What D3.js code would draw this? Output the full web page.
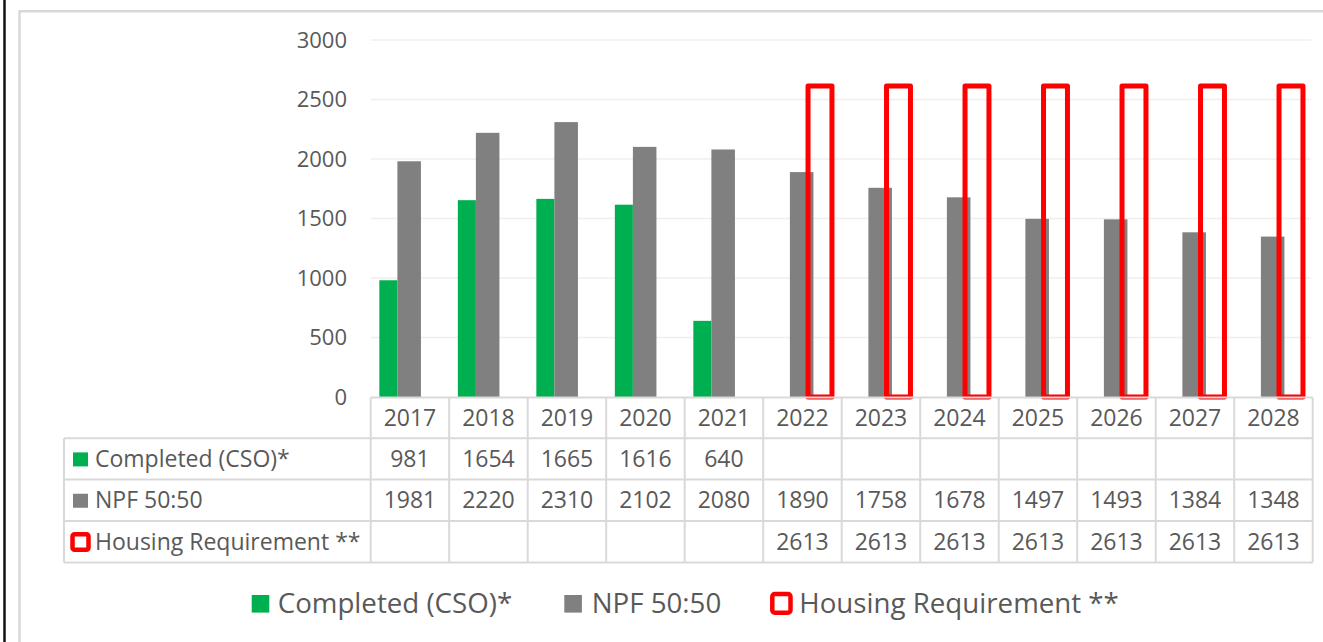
<!DOCTYPE html>
<html><head><meta charset="utf-8">
<script src="https://cdn.jsdelivr.net/npm/d3@7"></script>
<style>
html,body{margin:0;padding:0;background:#fff;}
svg{display:block;font-family:"Open Sans",sans-serif;}
</style></head>
<body><svg id="c" width="1323" height="642"></svg>
<script>
const years = ["2017","2018","2019","2020","2021","2022","2023","2024","2025","2026","2027","2028"];
const completed = [981,1654,1665,1616,640,null,null,null,null,null,null,null];
const npf = [1981,2220,2310,2102,2080,1890,1758,1678,1497,1493,1384,1348];
const housing = [null,null,null,null,null,2613,2613,2613,2613,2613,2613,2613];
const yTicks = [0,500,1000,1500,2000,2500,3000];
const seriesNames = ["Completed (CSO)*","NPF 50:50","Housing Requirement **"];

const GREEN="#00b050", GRAY="#808080", RED="#ff0000", TXT="#595959", LINE="#d9d9d9";
const svg = d3.select("#c");

// frame
svg.append("line").attr("x1",4.5).attr("x2",4.5).attr("y1",0).attr("y2",642).attr("stroke","#111").attr("stroke-width",2.5);
svg.append("path").attr("d","M19.5,642V11.3H1323").attr("fill","none").attr("stroke",LINE).attr("stroke-width",2.5);

const x = d3.scaleBand().domain(years).range([370.7,1312.7]).padding(0);
const y = d3.scaleLinear().domain([0,3000]).range([397,40]);
const bw = x.bandwidth();

// gridlines
svg.append("g").selectAll("line").data(yTicks.filter(d=>d>0)).join("line")
  .attr("x1",370.7).attr("x2",1311).attr("y1",d=>y(d)).attr("y2",d=>y(d))
  .attr("stroke","#efefef").attr("stroke-width",1.5);

// y axis labels via d3 axis
const yAxis = svg.append("g").attr("transform","translate(357,0)")
  .call(d3.axisLeft(y).tickValues(yTicks).tickSize(0).tickPadding(10).tickFormat(d3.format("d")));
yAxis.select(".domain").remove();
yAxis.selectAll("text").attr("font-size",22).attr("fill",TXT).attr("font-family","'Open Sans',sans-serif");

// bars
svg.append("g").selectAll("rect").data(years.map((yr,i)=>({yr,v:completed[i]})).filter(d=>d.v!=null)).join("rect")
  .attr("x",d=>x(d.yr)+bw*0.11).attr("width",bw*0.23)
  .attr("y",d=>y(d.v)).attr("height",d=>y(0)-y(d.v)).attr("fill",GREEN);
svg.append("g").selectAll("rect").data(years.map((yr,i)=>({yr,v:npf[i]}))).join("rect")
  .attr("x",d=>x(d.yr)+bw*0.34).attr("width",bw*0.30)
  .attr("y",d=>y(d.v)).attr("height",d=>y(0)-y(d.v)).attr("fill",GRAY);
svg.append("g").selectAll("rect").data(years.map((yr,i)=>({yr,v:housing[i]})).filter(d=>d.v!=null)).join("rect")
  .attr("x",d=>x(d.yr)+bw*0.571).attr("width",bw*0.305)
  .attr("y",d=>y(d.v)).attr("height",d=>y(0)-y(d.v))
  .attr("fill","none").attr("stroke",RED).attr("stroke-width",5).attr("stroke-linejoin","round");

// data table
const rowTops = [397.5,438.3,479.5,521,562.5];
const tg = svg.append("g").attr("stroke",LINE).attr("stroke-width",2).attr("fill","none");
tg.append("line").attr("x1",370.7).attr("x2",1312.7).attr("y1",rowTops[0]).attr("y2",rowTops[0]);
for(let r=1;r<rowTops.length;r++){
  tg.append("line").attr("x1",64).attr("x2",1312.7).attr("y1",rowTops[r]).attr("y2",rowTops[r]);
}
const vx = years.map(d=>x(d)).concat([x(years[years.length-1])+bw]);
vx.forEach(v=>tg.append("line").attr("x1",v).attr("x2",v).attr("y1",rowTops[0]).attr("y2",rowTops[4]));
tg.append("line").attr("x1",64).attr("x2",64).attr("y1",rowTops[1]).attr("y2",rowTops[4]);

const FS = 23;
svg.append("g").selectAll("text").data(years).join("text")
  .attr("x",d=>x(d)+bw/2).attr("y",(rowTops[0]+rowTops[1])/2+8)
  .attr("text-anchor","middle").attr("font-size",FS).attr("fill",TXT).text(d=>d);
const rows = [completed,npf,housing];
rows.forEach((arr,r)=>{
  const cy = (rowTops[r+1]+rowTops[r+2])/2+8;
  svg.append("g").selectAll("text").data(years.map((yr,i)=>({yr,v:arr[i]})).filter(d=>d.v!=null)).join("text")
    .attr("x",d=>x(d.yr)+bw/2).attr("y",cy).attr("text-anchor","middle")
    .attr("font-size",FS).attr("fill",TXT).text(d=>d.v);
  svg.append("text").attr("x",95).attr("y",cy).attr("font-size",FS).attr("fill",TXT).text(seriesNames[r]);
});
const rc = r => (rowTops[r+1]+rowTops[r+2])/2;
svg.append("rect").attr("x",73).attr("y",rc(0)-6.5).attr("width",15).attr("height",14).attr("fill",GREEN);
svg.append("rect").attr("x",73).attr("y",rc(1)-6.5).attr("width",15).attr("height",14).attr("fill",GRAY);
svg.append("rect").attr("x",72.5).attr("y",rc(2)-7.5).attr("width",16).attr("height",15.5).attr("rx",2)
  .attr("fill","#fff").attr("stroke",RED).attr("stroke-width",4.5);

// bottom legend
const LF = 27.7, LB = 613;
const lg = svg.append("g");
lg.append("rect").attr("x",251.7).attr("y",595).attr("width",17.6).attr("height",17.6).attr("fill",GREEN);
lg.append("text").attr("x",277.7).attr("y",LB).attr("font-size",LF).attr("fill",TXT).text(seriesNames[0]);
lg.append("rect").attr("x",564.3).attr("y",595).attr("width",17.6).attr("height",17.6).attr("fill",GRAY);
lg.append("text").attr("x",591.7).attr("y",LB).attr("font-size",LF).attr("fill",TXT).text(seriesNames[1]);
lg.append("rect").attr("x",772.3).attr("y",594).attr("width",18.2).attr("height",18.7).attr("rx",2.5)
  .attr("fill","#fff").attr("stroke",RED).attr("stroke-width",4.5);
lg.append("text").attr("x",799.3).attr("y",LB).attr("font-size",LF).attr("fill",TXT).text(seriesNames[2]);
</script></body></html>
